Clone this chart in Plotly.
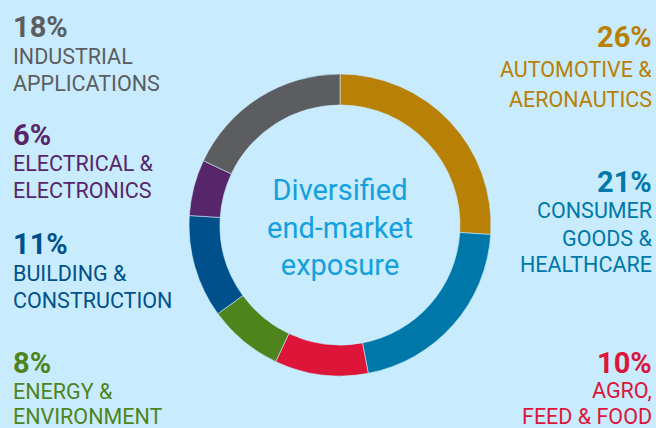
import plotly.graph_objects as go

categories = ["AUTOMOTIVE &<br>AERONAUTICS", "CONSUMER<br>GOODS &<br>HEALTHCARE", "AGRO,<br>FEED & FOOD",
              "ENERGY &<br>ENVIRONMENT", "BUILDING &<br>CONSTRUCTION", "ELECTRICAL &<br>ELECTRONICS",
              "INDUSTRIAL<br>APPLICATIONS"]
values = [26, 21, 10, 8, 11, 6, 18]
colors = ["#b88004", "#0077a9", "#dc1539", "#4f841d", "#00508b", "#56256a", "#5c5d60"]
center_text = "Diversified<br>end-market<br>exposure"

W, H = 656, 428
BG = "#c8ecfd"

# label layout: (x px, side, percentage center y px, category line center ys)
label_pos = [
    (654, "right", 37, [70, 99]),
    (654, "right", 182, [210, 238, 264]),
    (654, "right", 363, [390, 416]),
    (11, "left", 363, [391, 416]),
    (11, "left", 244, [273, 300]),
    (11, "left", 135, [163, 190]),
    (11, "left", 27, [56, 83]),
]

cx, cy, r = 340, 225, 151

fig = go.Figure(go.Pie(
    values=values,
    labels=[c.replace("<br>", " ") for c in categories],
    sort=False,
    direction="clockwise",
    rotation=0,
    hole=0.795,
    marker=dict(colors=colors, line=dict(color=BG, width=0.6)),
    textinfo="none",
    showlegend=False,
    domain=dict(x=[(cx - r) / W, (cx + r) / W], y=[1 - (cy + r) / H, 1 - (cy - r) / H]),
))

FONT = "Roboto"
ann = []
for cat, v, col, (x, side, py, lys) in zip(categories, values, colors, label_pos):
    ann.append(dict(x=x / W, y=1 - py / H, xref="paper", yref="paper", text=f"<b>{v}%</b>",
                    showarrow=False, xanchor=side, yanchor="middle",
                    font=dict(family=FONT, size=29, color=col)))
    for line, ly in zip(cat.split("<br>"), lys):
        ann.append(dict(x=x / W, y=1 - ly / H, xref="paper", yref="paper", text=line,
                        showarrow=False, xanchor=side, yanchor="middle",
                        font=dict(family=FONT, size=21.5, color=col)))

ann.append(dict(x=cx / W, y=1 - (cy + 2) / H, xref="paper", yref="paper", text=center_text,
                showarrow=False, xanchor="center", yanchor="middle", align="center",
                font=dict(family=FONT, size=29, color="#13a0dc")))

fig.update_layout(
    width=W, height=H,
    margin=dict(l=0, r=0, t=0, b=0),
    paper_bgcolor=BG, plot_bgcolor=BG,
    annotations=ann,
)

fig.write_html("out.html", config={"displayModeBar": False},
               post_script="document.body.style.margin='0';document.body.style.background='%s';" % BG)
